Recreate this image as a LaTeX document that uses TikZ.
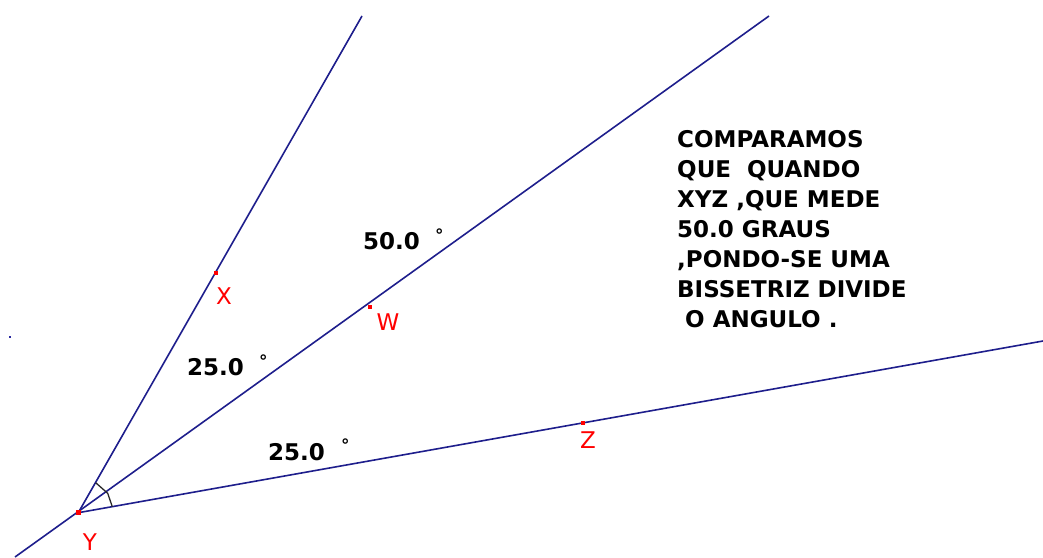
\documentclass[tikz,border=0pt]{standalone}
\usepackage{fontspec}
\setmainfont{DejaVu Sans}
\begin{document}
\begin{tikzpicture}[x=1pt,y=-1pt,
  ray/.style={draw={rgb,255:red,30;green,30;blue,140},line width=1.6pt},
  anglemark/.style={draw={rgb,255:red,40;green,40;blue,40},line width=1.3pt},
  pt/.style={fill=red,inner sep=0pt,minimum size=4pt,rectangle},
  lab/.style={text=red,font=\fontsize{23}{23}\selectfont,inner sep=0pt},
  num/.style={font=\fontsize{23}{23}\selectfont\bfseries,inner sep=0pt,anchor=base west},
  deg/.style={font=\fontsize{17}{17}\selectfont\bfseries,inner sep=0pt,anchor=north west},
  txt/.style={font=\fontsize{23}{23}\selectfont\bfseries,inner sep=0pt,anchor=base west}]
\useasboundingbox (0,0) rectangle (1043,557);
% points
\coordinate (Y) at (78.3,512.7);
\coordinate (Xtop) at (362,16);
\coordinate (Wtop) at (769,16);
\coordinate (Wbot) at (15,557);
\coordinate (Zend) at (1043,341);
\coordinate (ax) at (95.7,482.7);
\coordinate (aw) at (107.7,493.3);
\coordinate (az) at (112.3,506.7);
% rays
\draw[ray] (Y) -- (Xtop);
\draw[ray] (Wbot) -- (Wtop);
\draw[ray] (Y) -- (Zend);
% angle marks
\draw[anglemark] (ax) -- (aw) -- (az);
% points
\node[pt,minimum size=5.5pt] (pY) at (Y) {};
\node[pt] (pX) at (215.5,273) {};
\node[pt] (pW) at (370,307) {};
\node[pt] (pZ) at (583,423) {};
\node[fill={rgb,255:red,40;green,40;blue,160},inner sep=0pt,minimum size=2.5pt] (dot) at (10,337) {};
% labels
\node[lab] (lY) at (90,542) {Y};
\node[lab] (lX) at (224,296) {X};
\node[lab] (lW) at (388,322) {W};
\node[lab] (lZ) at (588,440) {Z};
% angle values
\node[num] (n50) at (363,249.5) {50.0};
\node[deg] (d50) at (435,229) {°};
\node[num] (n25a) at (187,375.5) {25.0};
\node[deg] (d25a) at (259,355) {°};
\node[num] (n25b) at (268,460.5) {25.0};
\node[deg] (d25b) at (341,439) {°};
% text
\node[txt] (t1) at (677,147) {COMPARAMOS};
\node[txt] (t2) at (677,177) {QUE\ \ QUANDO};
\node[txt] (t3) at (677,207) {XYZ ,QUE MEDE};
\node[txt] (t4) at (677,237) {50.0 GRAUS};
\node[txt] (t5) at (677,267) {,PONDO-SE UMA};
\node[txt] (t6) at (677,297) {BISSETRIZ DIVIDE};
\node[txt] (t7) at (677,327) {\ O ANGULO .};
\end{tikzpicture}
\end{document}
